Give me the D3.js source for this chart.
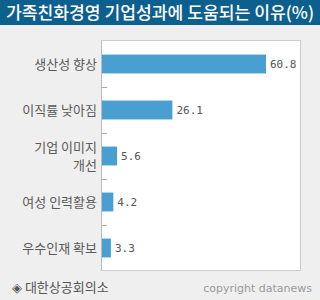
<!DOCTYPE html>
<html>
<head>
<meta charset="utf-8">
<script src="https://cdn.jsdelivr.net/npm/d3@7"></script>
<style>
  body { margin: 0; background: #efefef; }
  svg { display: block; }
</style>
</head>
<body>
<svg id="chart" width="320" height="300"></svg>
<script>
var categories = [ "생산성 향상", "이직률 낮아짐", "기업 이미지|개선", "여성 인력활용", "우수인재 확보" ];
var values = [ 60.8, 26.1, 5.6, 4.2, 3.3 ];
var title = "가족친화경영 기업성과에 도움되는 이유(%)";
var source = "◈ 대한상공회의소";
var credit = "copyright datanews";

window.addEventListener( "load", makeChart );
function makeChart() {
    var svg = d3.select( "#chart" );
    var left = 102, right = 300, top = 41, bottom = 271;

    svg.append( "rect" ).attr( "width", 320 ).attr( "height", 300 ).attr( "fill", "#efefef" );
    svg.append( "rect" ).attr( "width", 320 ).attr( "height", 25 ).attr( "fill", "#0d5f8e" );
    svg.append( "text" ).attr( "x", 160 ).attr( "y", 19 )
        .attr( "text-anchor", "middle" ).attr( "font-size", 17 ).attr( "font-weight", 500 )
        .attr( "font-family", "Noto Sans CJK KR" ).attr( "fill", "white" )
        .attr( "textLength", 308 ).attr( "lengthAdjust", "spacingAndGlyphs" )
        .text( title );

    // plot box
    svg.append( "rect" ).attr( "x", left - 0.5 ).attr( "y", top - 0.5 )
        .attr( "width", right - left + 1 ).attr( "height", bottom - top )
        .attr( "fill", "white" ).attr( "stroke", "#cccccc" );
    svg.append( "line" ).attr( "x1", left - 0.5 ).attr( "x2", left - 0.5 )
        .attr( "y1", top ).attr( "y2", bottom ).attr( "stroke", "#bbbbbb" );

    var y = d3.scaleBand().domain( categories ).range( [top, bottom] ).paddingInner( 0.59 ).paddingOuter( 0.295 );
    var x = d3.scaleLinear().domain( [0, 60.8] ).range( [left, 266] );

    // ticks between categories
    var step = y.step();
    svg.selectAll( "line.tk" ).data( categories.slice( 1 ) ).enter()
        .append( "line" ).attr( "class", "tk" )
        .attr( "x1", left ).attr( "x2", left + 5 )
        .attr( "y1", (d,i)=>top + step*(i+1) + 0.5 ).attr( "y2", (d,i)=>top + step*(i+1) + 0.5 )
        .attr( "stroke", "#aaaaaa" );

    svg.selectAll( "rect.bar" ).data( values ).enter()
        .append( "rect" ).attr( "class", "bar" )
        .attr( "x", left ).attr( "y", (d,i)=>y( categories[i] ) )
        .attr( "width", d=>x(d) - left ).attr( "height", y.bandwidth() )
        .attr( "fill", "#4a9fd1" );

    svg.selectAll( "text.val" ).data( values ).enter()
        .append( "text" ).attr( "class", "val" )
        .attr( "x", d=>x(d) + 4 ).attr( "y", (d,i)=>y( categories[i] ) + y.bandwidth()/2 + 4 )
        .attr( "font-family", "DejaVu Sans Mono" ).attr( "font-size", 11 ).attr( "fill", "#555" )
        .text( d=>d.toFixed(1) );

    var lab = svg.selectAll( "text.cat" ).data( categories ).enter()
        .append( "text" ).attr( "class", "cat" )
        .attr( "text-anchor", "end" ).attr( "font-family", "Noto Sans CJK KR" )
        .attr( "font-size", 13 ).attr( "fill", "#5a5a5a" );
    lab.each( function(d) {
        var lines = d.split( "|" );
        var cy = y(d) + y.bandwidth()/2;
        var t = d3.select( this );
        lines.forEach( function(s, j) {
            t.append( "tspan" ).attr( "x", 97 )
                .attr( "y", cy + 5 + (j - (lines.length-1)/2) * 18 )
                .text( s );
        } );
    } );

    svg.append( "text" ).attr( "x", 12 ).attr( "y", 292 )
        .attr( "font-family", "Noto Sans CJK KR" ).attr( "font-size", 13 ).attr( "fill", "#555" )
        .text( source );
    svg.append( "text" ).attr( "x", 312 ).attr( "y", 292 ).attr( "text-anchor", "end" )
        .attr( "font-family", "DejaVu Sans" ).attr( "font-size", 11 ).attr( "fill", "#999" )
        .text( credit );
}
</script>
</body>
</html>
